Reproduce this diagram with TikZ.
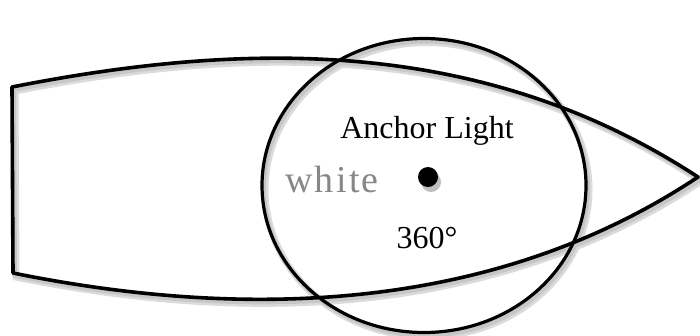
\documentclass[tikz,border=0pt]{standalone}
\usepackage{fontspec}
\setmainfont{Liberation Serif}
\usetikzlibrary{positioning}
\definecolor{lampgray}{RGB}{135,135,135}
\tikzset{
  hull/.style={draw=black, line width=3.6pt, line join=round},
  rangeline/.style={draw=black, line width=3.2pt},
  sombra/.style={draw=black!14, line width=7pt, shift={(3,4)}},
  sombrab/.style={draw=black!22, line width=4pt, shift={(2,3)}},
  etiqueta/.style={font=\fontsize{32}{36}\selectfont, anchor=base, inner sep=0pt},
  etiqcolor/.style={font=\fontsize{38}{44}\selectfont, text=lampgray, anchor=base, inner sep=0pt},
  lampara/.style={circle, fill=black, minimum size=20pt, inner sep=0pt}
}
\newcommand{\cascohull}{(12,87) .. controls (250,40) and (485,38) .. (698,177)
  .. controls (480,322) and (220,315) .. (13,273) -- cycle}
\begin{document}
\begin{tikzpicture}[x=1pt, y=-1pt]
  \useasboundingbox[fill=white] (0,0) rectangle (700,335);
  % shadows
  \foreach \s in {sombra, sombrab} {
    \draw[\s] \cascohull;
    \draw[\s] (424,185.5) ellipse [x radius=162, y radius=147];
  }
  \fill[black!25, shift={(3,5)}] (428,177) circle [radius=10];
  % hull and light range
  \draw[hull] \cascohull;
  \draw[rangeline] (424,185.5) ellipse [x radius=162, y radius=147];
  \node[lampara] (luz) at (428,177) {};
  \node[etiqueta] (nombre) at (427,138) {Anchor Light};
  \node[etiqcolor] (blanco) at (332,192) {\addfontfeatures{LetterSpace=6}white};
  \node[etiqueta] (arco) at (427,248) {360°};
\end{tikzpicture}
\end{document}
